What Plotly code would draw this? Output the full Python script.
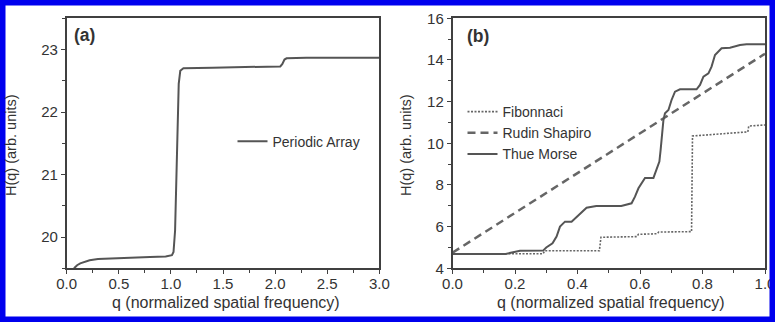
import plotly.graph_objects as go

# ---- Panel (a): Periodic Array ----
q_periodic = [0.07, 0.10, 0.13, 0.18, 0.22, 0.30, 0.42, 0.60, 0.80, 0.95, 1.00, 1.01, 1.025,
              1.04, 1.055, 1.065, 1.075, 1.09, 1.12, 1.4, 1.8, 2.05, 2.07, 2.09, 2.11, 2.3, 2.6, 3.0]
H_periodic = [19.5, 19.55, 19.58, 19.61, 19.63, 19.65, 19.66, 19.67, 19.68, 19.69, 19.70, 19.71, 19.76,
              20.1, 21.1, 21.9, 22.45, 22.66, 22.70, 22.71, 22.72, 22.73, 22.77, 22.84, 22.86, 22.87, 22.87, 22.87]

# ---- Panel (b) ----
q_fib = [0, 0.29, 0.295, 0.47, 0.475, 0.59, 0.595, 0.655, 0.66, 0.765, 0.768, 0.84, 0.9, 0.945, 0.948, 1.0]
H_fib = [4.7, 4.7, 4.84, 4.84, 5.49, 5.52, 5.63, 5.66, 5.74, 5.76, 10.35, 10.42, 10.5, 10.55, 10.83, 10.88]

q_rs = [0.0, 1.0]
H_rs = [4.75, 14.3]

q_tm = [0, 0.17, 0.19, 0.216, 0.29, 0.30, 0.32, 0.333, 0.344, 0.36, 0.381, 0.397, 0.413, 0.429, 0.46,
        0.54, 0.573, 0.584, 0.595, 0.611, 0.616, 0.643, 0.653, 0.662, 0.666, 0.669, 0.673, 0.675, 0.68,
        0.691, 0.701, 0.712, 0.728, 0.781, 0.792, 0.803, 0.819, 0.829, 0.84, 0.851, 0.861, 0.888, 0.92,
        0.941, 1.0]
H_tm = [4.69, 4.69, 4.76, 4.84, 4.85, 5.0, 5.2, 5.52, 6.0, 6.24, 6.24, 6.48, 6.72, 6.91, 6.99,
        6.99, 7.12, 7.44, 7.84, 8.24, 8.34, 8.34, 8.72, 9.12, 9.68, 10.3, 10.7, 11.12, 11.44,
        11.6, 12.08, 12.48, 12.59, 12.59, 12.8, 13.2, 13.36, 13.68, 14.24, 14.4, 14.56, 14.59, 14.72,
        14.75, 14.75]

FONT = "Liberation Sans, Arial, sans-serif"
TXT = "#333333"
LINE = "#555555"
AX = "#404040"

W, Hpx = 775, 322
def px_x(x): return x / W
def px_y(y): return 1 - y / Hpx

fig = go.Figure()
fig.add_trace(go.Scatter(x=q_periodic, y=H_periodic, mode="lines", name="Periodic Array",
                         line=dict(color=LINE, width=2), xaxis="x", yaxis="y", legend="legend"))
fig.add_trace(go.Scatter(x=q_fib, y=H_fib, mode="lines", name="Fibonnaci",
                         line=dict(color="#666666", width=1.6, dash="2px,1.5px"), xaxis="x2", yaxis="y2", legend="legend2"))
fig.add_trace(go.Scatter(x=q_rs, y=H_rs, mode="lines", name="Rudin Shapiro",
                         line=dict(color="#666666", width=2.5, dash="8px,5px"), xaxis="x2", yaxis="y2", legend="legend2"))
fig.add_trace(go.Scatter(x=q_tm, y=H_tm, mode="lines", name="Thue Morse",
                         line=dict(color=LINE, width=2), xaxis="x2", yaxis="y2", legend="legend2"))

ydom = [px_y(268.3), px_y(18.3)]
common_axis = dict(showline=True, linecolor=AX, linewidth=1.5, mirror=True, ticks="outside",
                   ticklen=4, tickwidth=1.2, tickcolor=AX, showgrid=False, zeroline=False,
                   ticklabeloverflow="allow",
                   tickfont=dict(family=FONT, size=15, color=TXT), automargin=False)

fig.update_layout(
    width=W, height=Hpx, margin=dict(l=0, r=0, t=0, b=0),
    paper_bgcolor="white", plot_bgcolor="white",
    font=dict(family=FONT, color=TXT),
    xaxis=dict(domain=[px_x(66.7), px_x(379.3)], range=[0, 3], dtick=0.5, tick0=0, tickformat=".1f",
               ticklabelstandoff=-3,
               minor=dict(dtick=0.25, ticks="outside", ticklen=2.5, tickcolor=AX), anchor="y", **common_axis),
    yaxis=dict(domain=ydom, range=[19.5, 23.5], dtick=1, tick0=20,
               minor=dict(dtick=0.5, ticks="outside", ticklen=2.5, tickcolor=AX), anchor="x", **common_axis),
    xaxis2=dict(domain=[px_x(452.5), px_x(765)], range=[0, 1], dtick=0.2, tick0=0, tickformat=".1f",
                ticklabelstandoff=-3,
                minor=dict(dtick=0.1, ticks="outside", ticklen=2.5, tickcolor=AX), anchor="y2", **common_axis),
    yaxis2=dict(domain=ydom, range=[4, 16], dtick=2, tick0=4,
                minor=dict(dtick=1, ticks="outside", ticklen=2.5, tickcolor=AX), anchor="x2", **common_axis),
    legend=dict(x=px_x(232.5), y=px_y(141.7), xanchor="left", yanchor="middle", bgcolor="rgba(0,0,0,0)",
                font=dict(family=FONT, size=14, color=TXT), borderwidth=0),
    legend2=dict(x=px_x(462.5), y=px_y(133), xanchor="left", yanchor="middle", bgcolor="rgba(0,0,0,0)",
                 font=dict(family=FONT, size=14, color=TXT), borderwidth=0, tracegroupgap=0),
    showlegend=True,
)

ann = [
    dict(text="<b>(a)</b>", x=px_x(72), y=px_y(35), xanchor="left", yanchor="middle", font=dict(size=17.5)),
    dict(text="<b>(b)</b>", x=px_x(465), y=px_y(36), xanchor="left", yanchor="middle", font=dict(size=17.5)),
    dict(text="H(q) (arb. units)", x=px_x(11), y=px_y(145), textangle=-90, xanchor="center", yanchor="middle", font=dict(size=14.5)),
    dict(text="H(q) (arb. units)", x=px_x(406), y=px_y(145), textangle=-90, xanchor="center", yanchor="middle", font=dict(size=14.5)),
    dict(text="q (normalized spatial frequency)", x=px_x(226), y=px_y(302), xanchor="center", yanchor="middle", font=dict(size=16)),
    dict(text="q (normalized spatial frequency)", x=px_x(611), y=px_y(302), xanchor="center", yanchor="middle", font=dict(size=16)),
]
for a in ann:
    a.update(xref="paper", yref="paper", showarrow=False)
    a["font"].update(family=FONT, color=TXT)
fig.update_layout(annotations=ann)

# blue frame around the figure
fig.add_shape(type="rect", xref="paper", yref="paper", x0=0, y0=0, x1=1, y1=1,
              line=dict(color="#0000EE", width=11), fillcolor="rgba(0,0,0,0)")

fig.write_html("out.html")
